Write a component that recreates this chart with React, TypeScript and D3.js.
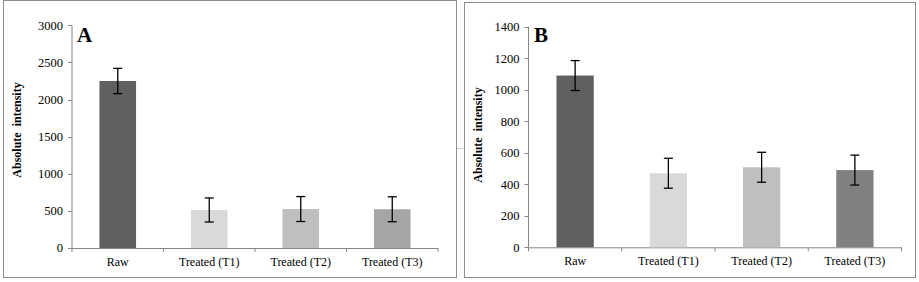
import React from "react";
import * as d3 from "d3";

const categories = ["Raw", "Treated (T1)", "Treated (T2)", "Treated (T3)"];
const valuesA = [2250, 512, 525, 522];
const errorsA = [170, 162, 168, 168];
const valuesB = [1090, 470, 508, 490];
const errorsB = [95, 95, 95, 95];
const ticksA = [0, 500, 1000, 1500, 2000, 2500, 3000];
const ticksB = [0, 200, 400, 600, 800, 1000, 1200, 1400];
const colorsA = ["#606060", "#d9d9d9", "#bfbfbf", "#a6a6a6"];
const colorsB = ["#606060", "#d9d9d9", "#bfbfbf", "#808080"];

const FONT = "Liberation Serif";

type PanelProps = {
  box: [number, number, number, number];
  axisX0: number;
  axisX1: number;
  y0: number;
  y1: number;
  max: number;
  ticks: number[];
  values: number[];
  errors: number[];
  colors: string[];
  letter: string;
  letterX: number;
  titleX: number;
  titleY: number;
};

function Panel(p: PanelProps) {
  const x = d3.scaleBand<string>().domain(categories).range([p.axisX0, p.axisX1]).paddingInner(0.6).paddingOuter(0.3);
  const xb = d3.scaleBand<string>().domain(categories).range([p.axisX0, p.axisX1]);
  const y = d3.scaleLinear().domain([0, p.max]).range([p.y0, p.y1]);
  const bw = x.bandwidth();
  return (
    <g>
      <rect x={p.box[0]} y={p.box[1]} width={p.box[2]} height={p.box[3]} fill="white" stroke="#8c8c8c" strokeWidth={1} />
      <line x1={p.axisX0} x2={p.axisX0} y1={p.y0} y2={p.y1} stroke="#868686" />
      {p.ticks.map((t) => (
        <g key={t}>
          <line x1={p.axisX0 - 4} x2={p.axisX0} y1={Math.round(y(t)) + 0.5} y2={Math.round(y(t)) + 0.5} stroke="#868686" />
          <text x={p.axisX0 - 9} y={y(t)} dy="0.35em" textAnchor="end" fontFamily={FONT} fontSize={12.5} fill="#000">
            {t}
          </text>
        </g>
      ))}
      <line x1={p.axisX0} x2={p.axisX1} y1={p.y0 + 0.5} y2={p.y0 + 0.5} stroke="#868686" />
      {categories.map((c) => (
        <line key={"t" + c} x1={xb(c)!} x2={xb(c)!} y1={p.y0} y2={p.y0 + 4} stroke="#868686" />
      ))}
      <line x1={p.axisX1} x2={p.axisX1} y1={p.y0} y2={p.y0 + 4} stroke="#868686" />
      {categories.map((c, i) => {
        const cx = x(c)! + bw / 2;
        const top = y(p.values[i]);
        const hi = y(p.values[i] + p.errors[i]);
        const lo = y(p.values[i] - p.errors[i]);
        return (
          <g key={c}>
            <rect x={x(c)!} y={top} width={bw} height={p.y0 - top} fill={p.colors[i]} />
            <line x1={cx} x2={cx} y1={hi} y2={lo} stroke="#000" strokeWidth={1.3} />
            <line x1={cx - 4.5} x2={cx + 4.5} y1={hi} y2={hi} stroke="#000" strokeWidth={1.3} />
            <line x1={cx - 4.5} x2={cx + 4.5} y1={lo} y2={lo} stroke="#000" strokeWidth={1.3} />
            <text x={xb(c)! + xb.bandwidth() / 2} y={p.y0 + 18} textAnchor="middle" fontFamily={FONT} fontSize={12} fill="#000">
              {c}
            </text>
          </g>
        );
      })}
      <text x={p.letterX} y={42} fontFamily={FONT} fontSize={21} fontWeight="bold" fill="#000">
        {p.letter}
      </text>
      <text
        transform={`translate(${p.titleX},${p.titleY}) rotate(-90)`}
        textAnchor="middle"
        fontFamily={FONT}
        fontSize={12}
        fontWeight="bold"
        fill="#000"
        style={{ whiteSpace: "pre" }}
      >
        {"Absolute  intensity"}
      </text>
    </g>
  );
}

export default function App() {
  return (
    <svg width={919} height={282} style={{ position: "absolute", left: 0, top: 0, background: "white" }}>
      <rect x={0} y={0} width={919} height={282} fill="white" />
      <Panel
        box={[3.5, 0.5, 453, 277]}
        axisX0={72}
        axisX1={438}
        y0={248}
        y1={25.3}
        max={3000}
        ticks={ticksA}
        values={valuesA}
        errors={errorsA}
        colors={colorsA}
        letter="A"
        letterX={77}
        titleX={21}
        titleY={130}
      />
      <Panel
        box={[464.5, 2.5, 451, 275]}
        axisX0={528.5}
        axisX1={901.5}
        y0={247.3}
        y1={26.7}
        max={1400}
        ticks={ticksB}
        values={valuesB}
        errors={errorsB}
        colors={colorsB}
        letter="B"
        letterX={534}
        titleX={482}
        titleY={135}
      />
      <line x1={457} x2={463} y1={148.5} y2={148.5} stroke="#c8c8c8" />
    </svg>
  );
}
